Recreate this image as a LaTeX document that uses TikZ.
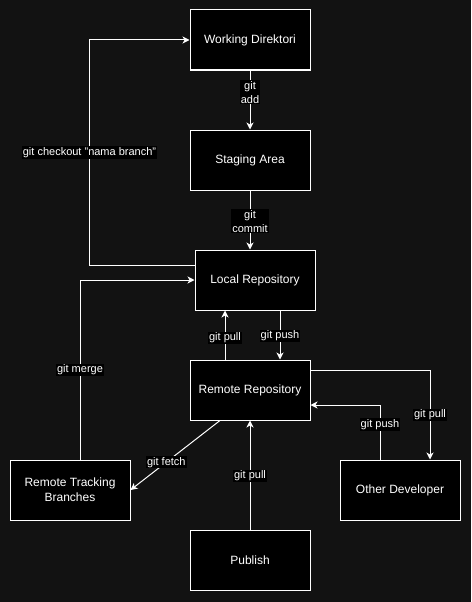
\documentclass[tikz,border=0pt]{standalone}
\usepackage{fontspec}
\setmainfont{Liberation Sans}
\usetikzlibrary{arrows.meta}
\definecolor{bgdark}{HTML}{121212}

\tikzset{
    box/.style={draw=white, fill=black, line width=1pt, text=white, align=center,
        minimum width=120pt, minimum height=60pt, font=\fontsize{12}{15}\selectfont},
    lbl/.style={fill=black, text=white, inner sep=1pt, align=center,
        font=\fontsize{11}{14}\selectfont},
    conn/.style={draw=white, line width=1pt, -{Stealth[length=7pt, width=7pt, inset=2pt]}}
}

\begin{document}
\begin{tikzpicture}[x=1pt, y=-1pt]
    % Background
    \fill[bgdark] (0,0) rectangle (471,602);
    \useasboundingbox (0,0) rectangle (471,602);

    % Boxes
    \node[box] (wd) at (250,40) {Working Direktori};
    \node[box] (sa) at (250,160) {Staging Area};
    \node[box] (lr) at (255,280) {Local Repository};
    \node[box] (rr) at (250,390) {Remote Repository};
    \node[box] (rtb) at (70,490) {Remote Tracking\\Branches};
    \node[box] (od) at (400,490) {Other Developer};
    \node[box] (pub) at (250,560) {Publish};

    % Local workflow
    \draw[conn] (wd) -- node[lbl, pos=0.37]{git\\add} (sa);
    \draw[conn] (sa.south) -- node[lbl, pos=0.52]{git\\commit} (sa.south |- lr.north);
    \draw[conn] ([yshift=15pt]lr.west) -- ++(-105,0)
        |- node[lbl, pos=0.25]{git checkout "nama branch"} (wd.west);

    % Local <-> remote
    \draw[conn] ([xshift=-25pt]rr.north) -- node[lbl, pos=0.44]{git pull}
        ([xshift=-25pt]rr.north |- lr.south);
    \draw[conn] ([xshift=25pt]lr.south) -- node[lbl, pos=0.52]{git push}
        ([xshift=25pt]lr.south |- rr.north);
    \draw[conn] ([xshift=10pt]rtb.north) |- node[lbl, pos=0.25]{git merge} (lr.west);
    \draw[conn] ([xshift=-30pt]rr.south) -- node[lbl, pos=0.6]{git fetch} (rtb.east);
    \draw[conn] (pub) -- node[lbl, pos=0.49]{git pull} (rr);

    % Other developer
    \draw[conn] ([yshift=20pt]rr.east) -| node[lbl, pos=0.75]{git pull} ([xshift=30pt]od.north);
    \draw[conn] ([xshift=-20pt]od.north) |- node[lbl, pos=0.32]{git push} ([yshift=-15pt]rr.east);
\end{tikzpicture}
\end{document}
